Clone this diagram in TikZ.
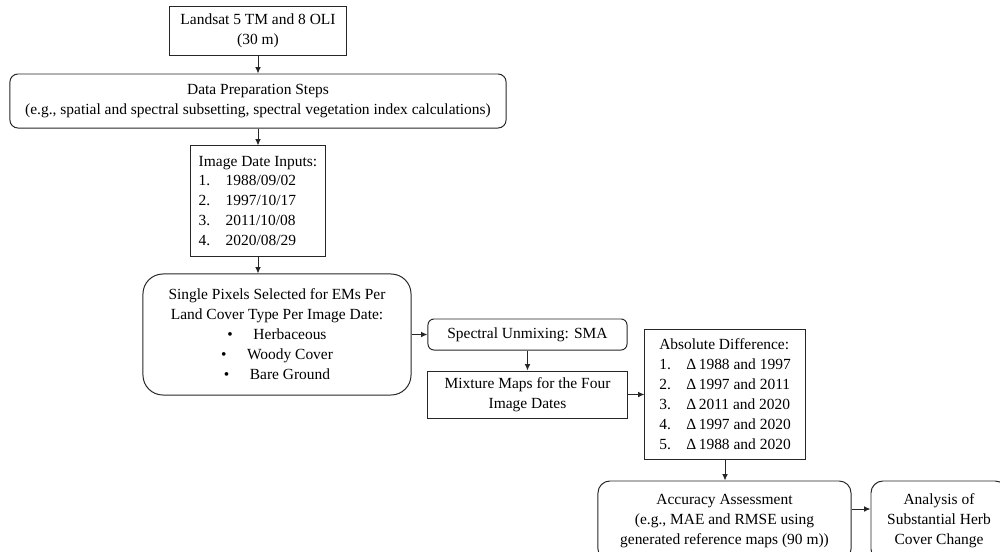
\documentclass[tikz,border=0pt]{standalone}
\usepackage{fontspec}
\setmainfont{Liberation Serif}
\usetikzlibrary{arrows.meta}
\tikzset{
  box/.style={draw=black!85,line width=0.7pt,inner sep=2pt,font=\fontsize{11}{14.2}\selectfont,align=center},
  rbox/.style={box,rounded corners=#1},
  rbox/.default=0.2cm,
  arr/.style={-{Latex[length=4.5pt,width=4pt]},line width=0.7pt,draw=black!85}
}
\newcommand{\numitem}[1]{\makebox[0.675cm][l]{#1}}
\newcommand{\bulitem}{\makebox[0.65cm][l]{\textbullet}}
\begin{document}
\begin{tikzpicture}[x=0.025cm,y=-0.025cm]
		\useasboundingbox (0,0) rectangle (1000,552);
		\clip (0,0) rectangle (1000,552);
		\node[box,minimum width=4.4cm,minimum height=1.225cm] (landsat) at (258,30.5) {Landsat 5 TM and 8 OLI\\(30 m)};
		\node[rbox,minimum width=12.4cm,minimum height=1.35cm] (prep) at (258,101) {Data Preparation Steps\\(e.g., spatial and spectral subsetting, spectral vegetation index calculations)};
		\node[box,align=left,minimum width=3.35cm,minimum height=2.75cm] (dates) at (258,201) {Image Date Inputs:\\\numitem{1.}1988/09/02\\\numitem{2.}1997/10/17\\\numitem{3.}2011/10/08\\\numitem{4.}2020/08/29};
		\node[rbox=0.5cm,minimum width=6.7cm,minimum height=3.025cm] (pixels) at (277,334.5) {Single Pixels Selected for EMs Per\\Land Cover Type Per Image Date:\\\bulitem Herbaceous\\\bulitem Woody Cover\\\bulitem Bare Ground};
		\node[rbox=0.15cm,minimum width=4.975cm,minimum height=0.775cm] (sma) at (527.5,334.5) {Spectral Unmixing: SMA};
		\node[box,minimum width=4.975cm,minimum height=1.175cm] (mix) at (527.5,394.5) {Mixture Maps for the Four\\Image Dates};
		\node[box,align=left,minimum width=4cm,minimum height=3.225cm] (absdiff) at (725,394.5) {Absolute Difference:\\\numitem{1.}Δ\,1988 and 1997\\\numitem{2.}Δ\,1997 and 2011\\\numitem{3.}Δ\,2011 and 2020\\\numitem{4.}Δ\,1997 and 2020\\\numitem{5.}Δ\,1988 and 2020};
		\node[rbox=0.3cm,minimum width=6.325cm,minimum height=2cm] (acc) at (724.5,521) {Accuracy Assessment\\(e.g., MAE and RMSE using\\generated reference maps (90 m))};
		\node[rbox=0.3cm,minimum width=3.4cm,minimum height=2cm] (ana) at (939,521) {Analysis of\\Substantial Herb\\Cover Change};
		\draw[arr] (landsat) -- (prep);
		\draw[arr] (prep) -- (dates);
		\draw[arr] (dates.south) -- (dates.south |- pixels.north);
		\draw[arr] (pixels) -- (sma);
		\draw[arr] (sma) -- (mix);
		\draw[arr] (mix) -- (absdiff);
		\draw[arr] (absdiff) -- (absdiff.south |- acc.north);
		\draw[arr] ([yshift=0.3cm]acc.east) -- ([yshift=0.3cm]ana.west);
\end{tikzpicture}
\end{document}
